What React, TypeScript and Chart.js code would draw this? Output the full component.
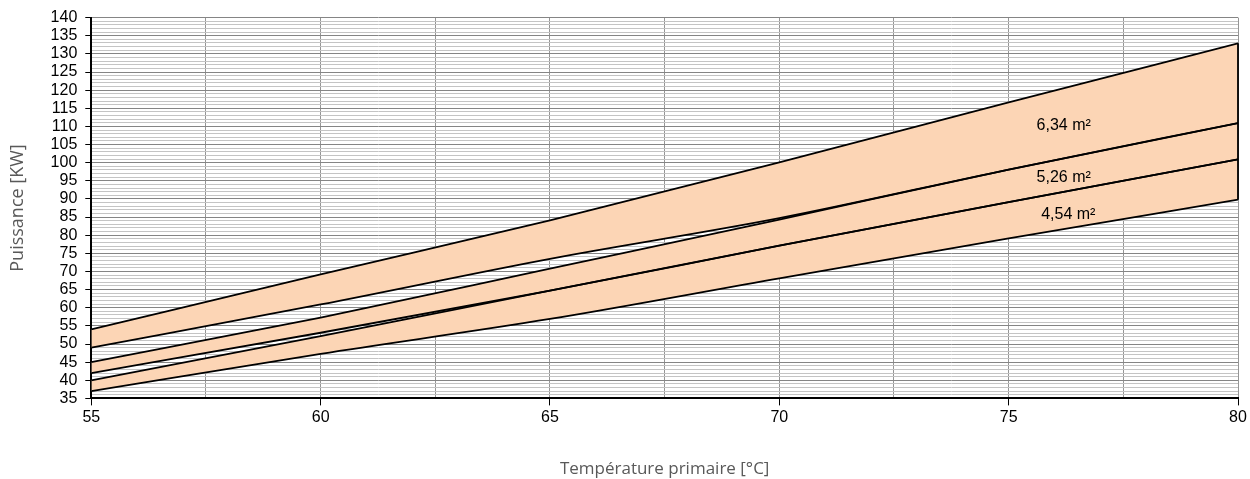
import React, { useEffect, useRef } from "react";
import { Chart, registerables } from "chart.js";

Chart.register(...registerables);

// Primary temperature [°C]
const xValues = [55, 60, 65, 70, 75, 80];
// Power [kW] – envelope of each exchanger surface
const band634Top = [54, 69.2, 84.1, 100.1, 116.6, 132.9];
const band634Bottom = [49, 60.9, 73.5, 84.7, 98.1, 110.9];
const band526Top = [45, 57.3, 70.8, 84.3, 98.1, 110.9];
const band526Bottom = [42, 53.1, 64.7, 77.1, 89.1, 100.9];
const band454Top = [40, 52.2, 64.7, 77.1, 89.1, 100.9];
const band454Bottom = [37, 47.3, 56.9, 68.1, 79.1, 89.8];

const bandLabels = ["6,34 m²", "5,26 m²", "4,54 m²"];
const bandLabelX = [76.2, 76.2, 76.3];
const bandLabelY = [110.3, 96.0, 85.8];

const FILL = "rgb(252,213,181)";

export default function App() {
  const ref = useRef<HTMLCanvasElement>(null);

  useEffect(() => {
    const canvas = ref.current;
    if (!canvas) return;
    const mk = (arr: number[]) => xValues.map((x, i) => ({ x, y: arr[i] }));
    const ds = (label: string, arr: number[], fill: any) => ({
      label,
      data: mk(arr),
      borderColor: "#000",
      borderWidth: 1.8,
      pointRadius: 0,
      fill,
      backgroundColor: FILL,
      cubicInterpolationMode: "monotone" as const,
    });

    const labelPlugin = {
      id: "bandLabels",
      afterDatasetsDraw(chart: any) {
        const { ctx, scales } = chart;
        const xs = scales.x;
        const ys = scales.y;
        ctx.save();
        // right closing edge of the bands
        const last = xValues.length - 1;
        const px = xs.getPixelForValue(xValues[last]);
        ctx.strokeStyle = "#000";
        ctx.lineWidth = 1.8;
        ctx.beginPath();
        ctx.moveTo(px, ys.getPixelForValue(band634Top[last]));
        ctx.lineTo(px, ys.getPixelForValue(band454Bottom[last]));
        ctx.stroke();
        ctx.fillStyle = "#000";
        ctx.font = "16px 'Liberation Sans', Arial, sans-serif";
        ctx.textAlign = "center";
        ctx.textBaseline = "middle";
        bandLabels.forEach((t, i) => {
          ctx.fillText(t, xs.getPixelForValue(bandLabelX[i]), ys.getPixelForValue(bandLabelY[i]));
        });
        ctx.restore();
      },
    };

    const chart = new Chart(canvas, {
      type: "line",
      data: {
        datasets: [
          ds("6,34 top", band634Top, "+1"),
          ds("6,34 bottom", band634Bottom, false),
          ds("5,26 top", band526Top, "+1"),
          ds("5,26 bottom", band526Bottom, false),
          ds("4,54 top", band454Top, "+1"),
          ds("4,54 bottom", band454Bottom, false),
        ],
      },
      options: {
        animation: false,
        responsive: true,
        maintainAspectRatio: false,
        layout: { padding: { top: 11, right: 12, left: 7, bottom: 0 } },
        plugins: {
          legend: { display: false },
          tooltip: { enabled: false },
          filler: { drawTime: "beforeDatasetsDraw" },
        } as any,
        scales: {
          x: {
            type: "linear",
            min: 55,
            max: 80,
            ticks: {
              stepSize: 2.5,
              autoSkip: false,
              maxRotation: 0,
              color: "#000",
              padding: 3,
              font: { family: "'Liberation Sans', Arial, sans-serif", size: 16 },
              callback: (v: any) => (Number(v) % 5 === 0 ? String(v) : ""),
            },
            grid: {
              color: "#959595",
              lineWidth: 1,
              tickLength: 7,
              tickColor: (c: any) => (c.tick && c.tick.value % 5 === 0 ? "#000" : "rgba(0,0,0,0)"),
            },
            border: { color: "#000", width: 2 },
            title: {
              display: true,
              text: "Température primaire [°C]",
              color: "#595959",
              font: { family: "'Open Sans', sans-serif", size: 17 },
              padding: { top: 28, bottom: 0 },
            },
          },
          y: {
            type: "linear",
            min: 35,
            max: 140,
            ticks: {
              stepSize: 1,
              autoSkip: false,
              color: "#000",
              padding: 8,
              font: { family: "'Liberation Sans', Arial, sans-serif", size: 16 },
              callback: (v: any) => (Number(v) % 5 === 0 ? String(v) : ""),
            },
            grid: {
              color: (c: any) => (c.tick && c.tick.value % 5 === 0 ? "#858585" : "#c4c4c4"),
              lineWidth: 1,
              tickLength: 6,
              tickColor: (c: any) => (c.tick && c.tick.value % 5 === 0 ? "#000" : "rgba(0,0,0,0)"),
            },
            border: { color: "#000", width: 2 },
            title: {
              display: true,
              text: "Puissance [KW]",
              color: "#595959",
              font: { family: "'Open Sans', sans-serif", size: 18 },
              padding: { top: 0, bottom: 14 },
            },
          },
        },
      } as any,
      plugins: [labelPlugin],
    });
    return () => chart.destroy();
  }, []);

  return (
    <div style={{ position: "fixed", left: 0, top: 0, width: 1250, height: 479 }}>
      <canvas ref={ref} />
    </div>
  );
}
